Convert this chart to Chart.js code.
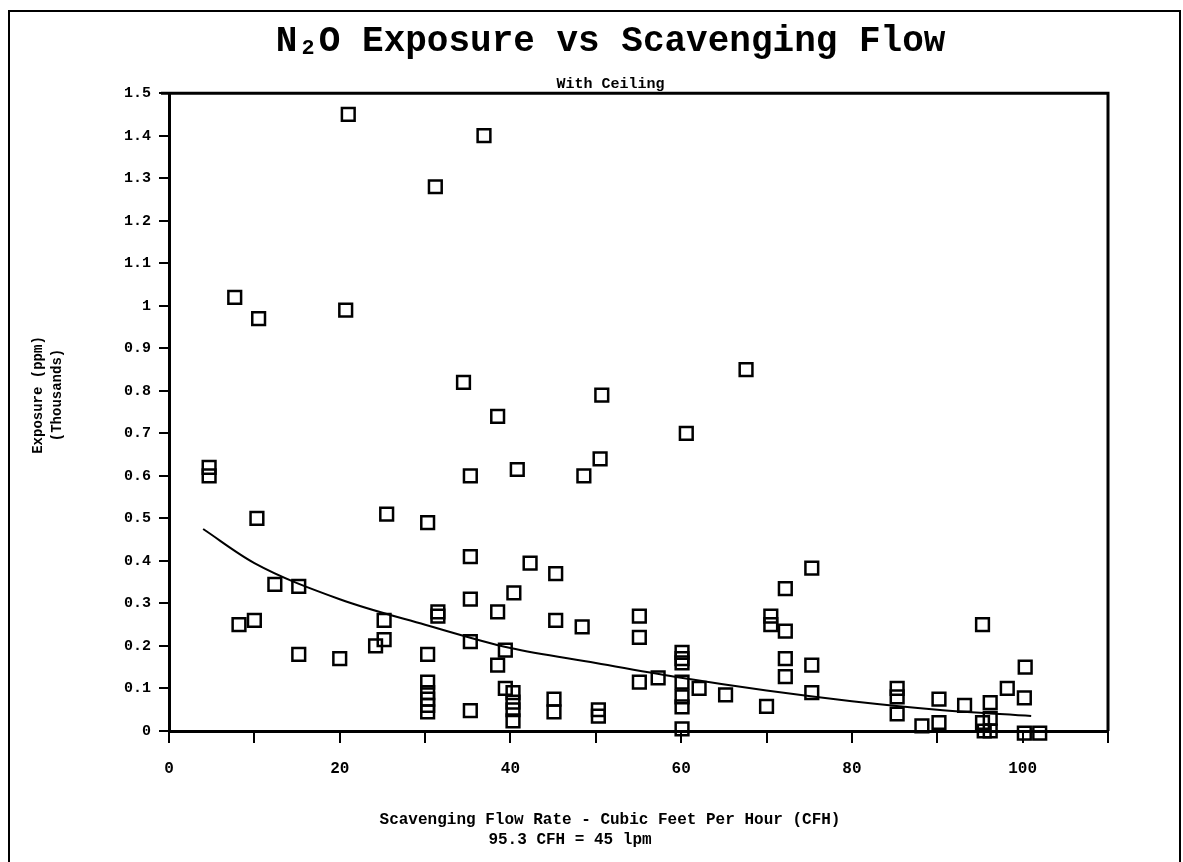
<!DOCTYPE html>
<html lang="en">
<head>
    <meta charset="UTF-8">
    <title>N2O Exposure vs Scavenging Flow</title>
    <script src="https://cdn.jsdelivr.net/npm/chart.js"></script>
    <style>
        html, body { margin: 0; padding: 0; background: #fff; }
        #wrap { width: 1183px; height: 862px; }
    </style>
</head>
<body>
    <div id="wrap"><canvas id="exposureChart" width="1183" height="862"></canvas></div>

    <script>
        // scavenging flow (CFH) and measured exposure (ppm, thousands)
        var flowCfh = [
            4.7, 4.7, 7.7, 8.2, 10, 10.3, 10.5, 12.4, 15.2, 15.2,
            20, 20.7, 21, 24.2, 25.2, 25.2, 25.5, 30.3, 30.3, 30.3,
            30.3, 30.3, 30.3, 30.3, 31.2, 31.5, 31.5, 34.5, 35.3, 35.3,
            35.3, 35.3, 35.3, 36.9, 38.5, 38.5, 38.5, 39.4, 39.4, 40.3,
            40.3, 40.3, 40.3, 40.4, 40.8, 42.3, 45.3, 45.3, 45.1, 45.1,
            48.4, 48.6, 50.3, 50.3, 50.5, 50.7, 55.1, 55.1, 55.1, 57.3,
            60.1, 60.1, 60.1, 60.1, 60.1, 60.1, 60.1, 60.6, 62.1, 65.2,
            67.6, 70, 70.5, 70.5, 72.2, 72.2, 72.2, 72.2, 75.3, 75.3,
            75.3, 85.3, 85.3, 85.3, 88.2, 90.2, 90.2, 93.2, 95.3, 95.3,
            95.5, 96.2, 96.2, 96.2, 98.2, 100.3, 100.2, 100.2, 102
        ];
        var exposure = [
            0.62, 0.60, 1.02, 0.25, 0.26, 0.50, 0.97, 0.345, 0.34, 0.18,
            0.17, 0.99, 1.45, 0.20, 0.215, 0.26, 0.51, 0.49, 0.18, 0.115,
            0.09, 0.075, 0.06, 0.045, 1.28, 0.28, 0.27, 0.82, 0.60, 0.41,
            0.31, 0.21, 0.048, 1.40, 0.74, 0.28, 0.155, 0.19, 0.10, 0.09,
            0.068, 0.05, 0.024, 0.325, 0.615, 0.395, 0.37, 0.26, 0.075, 0.045,
            0.245, 0.60, 0.05, 0.035, 0.64, 0.79, 0.27, 0.22, 0.115, 0.125,
            0.185, 0.17, 0.16, 0.115, 0.08, 0.057, 0.005, 0.70, 0.10, 0.085,
            0.85, 0.058, 0.27, 0.25, 0.335, 0.235, 0.17, 0.128, 0.383, 0.155,
            0.09, 0.10, 0.08, 0.04, 0.012, 0.075, 0.02, 0.06, 0.25, 0.02,
            0.0, 0.067, 0.03, 0.0, 0.10, 0.15, 0.078, -0.005, -0.005
        ];

        // fitted curve
        var trendX = [4, 10, 20, 30, 40, 50, 60, 70, 80, 90, 101];
        var trendY = [0.475, 0.395, 0.31, 0.25, 0.195, 0.16, 0.125, 0.095, 0.07, 0.05, 0.035];

        var xLabelValues = [0, 20, 40, 60, 80, 100];

        var FONT = "'Liberation Mono', 'DejaVu Sans Mono', monospace";

        var scatterPoints = flowCfh.map(function (x, i) { return { x: x, y: exposure[i] }; });
        var trendPoints = trendX.map(function (x, i) { return { x: x, y: trendY[i] }; });

        // frame on top/right of the plot, page border and the axis captions
        var framePlugin = {
            id: 'frame',
            afterDraw: function (chart) {
                var c = chart.ctx, a = chart.chartArea;
                c.save();
                c.strokeStyle = '#000';
                c.lineWidth = 3;
                c.beginPath();
                c.moveTo(a.left - 8, a.top);
                c.lineTo(a.right, a.top);
                c.lineTo(a.right, a.bottom);
                c.stroke();

                c.lineWidth = 2;
                c.beginPath();
                c.moveTo(9, chart.height);
                c.lineTo(9, 11);
                c.lineTo(1180, 11);
                c.lineTo(1180, chart.height);
                c.stroke();

                c.fillStyle = '#000';
                c.textBaseline = 'middle';
                c.textAlign = 'center';
                c.font = 'bold 16px ' + FONT;
                c.fillText('Scavenging Flow Rate - Cubic Feet Per Hour (CFH)', 610, 820);
                c.fillText('95.3 CFH = 45 lpm', 570, 840);

                c.font = 'bold 14px ' + FONT;
                c.translate(38, 395);
                c.rotate(-Math.PI / 2);
                c.fillText('Exposure (ppm)', 0, 0);
                c.fillText('(Thousands)', 0, 19);
                c.restore();
            }
        };

        var ctx = document.getElementById('exposureChart').getContext('2d');
        var exposureChart = new Chart(ctx, {
            type: 'scatter',
            data: {
                datasets: [{
                    label: 'Exposure',
                    data: scatterPoints,
                    pointStyle: 'rect',
                    pointRadius: 9,
                    pointHoverRadius: 9,
                    pointBorderWidth: 2.5,
                    borderColor: '#000',
                    backgroundColor: 'rgba(0,0,0,0)',
                    clip: false
                }, {
                    type: 'line',
                    label: 'Fit',
                    data: trendPoints,
                    borderColor: '#000',
                    borderWidth: 2,
                    pointRadius: 0,
                    fill: false,
                    cubicInterpolationMode: 'monotone'
                }]
            },
            options: {
                responsive: false,
                animation: false,
                layout: { padding: { left: 38, right: 0, top: 0, bottom: 0 } },
                plugins: {
                    legend: { display: false },
                    tooltip: { enabled: false },
                    title: {
                        display: true,
                        text: 'N\u2082O Exposure vs Scavenging Flow',
                        color: '#000',
                        font: { family: FONT, size: 36, weight: 'bold' },
                        padding: { top: 20, bottom: 8 }
                    },
                    subtitle: {
                        display: true,
                        text: 'With Ceiling',
                        color: '#000',
                        font: { family: FONT, size: 15, weight: 'bold' },
                        padding: { top: 4, bottom: 0 }
                    }
                },
                scales: {
                    x: {
                        type: 'linear',
                        min: 0,
                        max: 110,
                        afterFit: function (scale) { scale.height = 131; },
                        border: { display: true, color: '#000', width: 3 },
                        grid: { drawOnChartArea: false, drawTicks: true, tickLength: 12, color: '#000', lineWidth: 2 },
                        ticks: {
                            stepSize: 10,
                            autoSkip: false,
                            maxRotation: 0,
                            padding: 16,
                            color: '#000',
                            font: { family: FONT, size: 16, weight: 'bold' },
                            callback: function (v) { return xLabelValues.indexOf(v) >= 0 ? String(v) : ''; }
                        }
                    },
                    y: {
                        min: 0,
                        max: 1.5,
                        afterFit: function (scale) { scale.width = 131; },
                        border: { display: true, color: '#000', width: 3 },
                        grid: { drawOnChartArea: false, drawTicks: true, tickLength: 10, color: '#000', lineWidth: 2 },
                        ticks: {
                            stepSize: 0.1,
                            padding: 8,
                            color: '#000',
                            font: { family: FONT, size: 15, weight: 'bold' },
                            callback: function (v) { return String(Number(v.toFixed(1))); }
                        }
                    },
                    // empty right-hand axis, only keeps room beside the plot
                    yRight: {
                        position: 'right',
                        min: 0,
                        max: 1.5,
                        afterFit: function (scale) { scale.width = 75; },
                        border: { display: false },
                        grid: { display: false },
                        ticks: { display: false }
                    }
                }
            },
            plugins: [framePlugin]
        });
    </script>
</body>
</html>
